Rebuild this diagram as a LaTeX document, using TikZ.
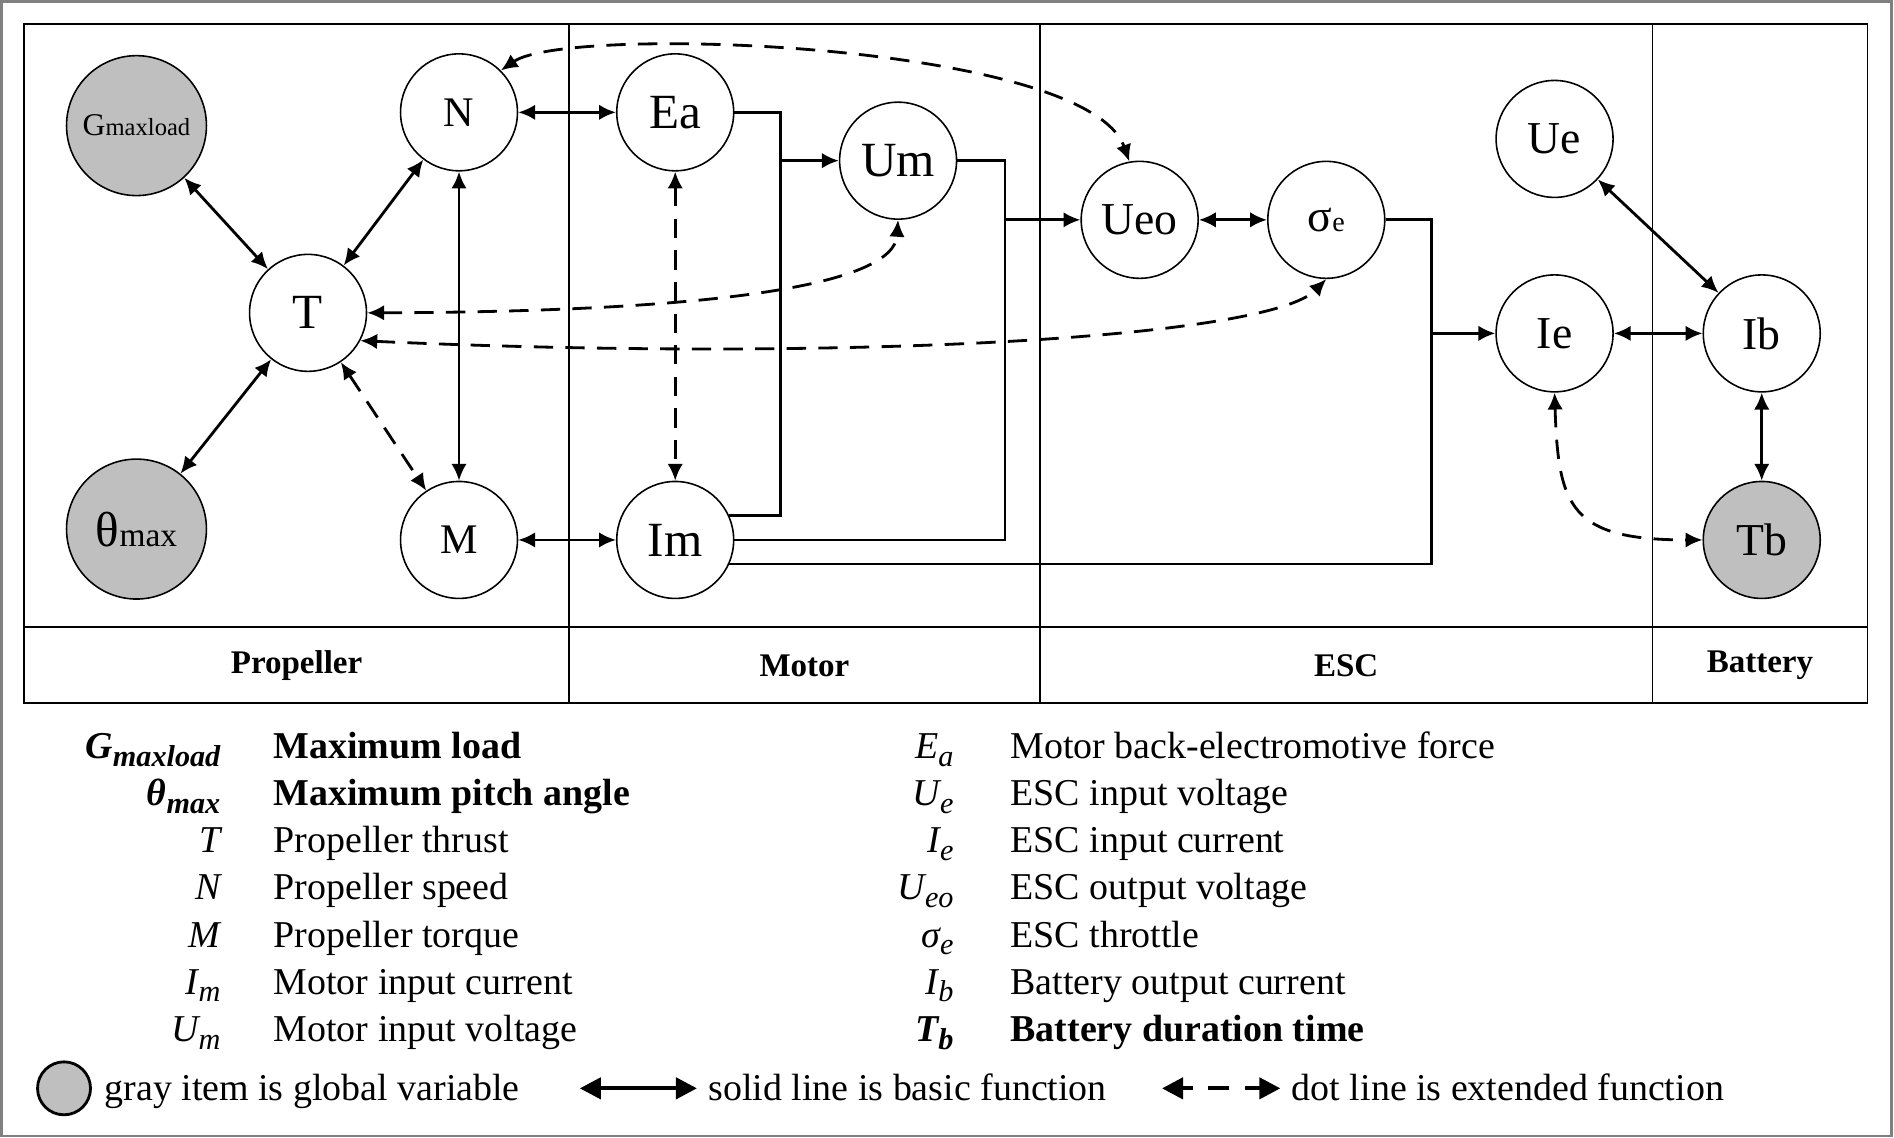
\documentclass[tikz,border=0pt]{standalone}
\usepackage{fontspec}
\setmainfont{Liberation Serif}
\usetikzlibrary{arrows.meta}
\newcommand{\lsub}[1]{\raisebox{-0.45ex}{\fontsize{8.6}{9}\selectfont #1}}
\newcommand{\vsub}[2]{{\fontsize{#1}{#1}\selectfont #2}}
\tikzset{
  >={Latex[length=4.8pt,width=4.4pt]},
  var/.style={draw,circle,line width=0.45pt,minimum size=1.17cm,inner sep=0pt,fill=white},
  globalvar/.style={var,fill=gray!50,minimum size=1.40cm},
  ext/.style={dash pattern=on 5.5pt off 3.5pt},
  part/.style={font=\fontsize{9.4}{11}\selectfont\bfseries},
  symb/.style={anchor=base east,inner sep=0pt},
  desc/.style={anchor=base west,inner sep=0pt},
  keyarrow/.style={line width=1.2pt,{Triangle[length=6pt,width=6pt]}-{Triangle[length=6pt,width=6pt]}},
}
\tikzstyle{every node}=[font=\fontsize{10.8}{13}\selectfont]

\begin{document}
\begin{tikzpicture}[x=0.012079cm,y=-0.012079cm]
    \useasboundingbox (0,0) rectangle (1568,942);
    \draw[gray,line width=0.8pt] (1.5,1.5) rectangle (1566,940.5);
    % frame and parts
    \draw[line width=0.5pt] (20,20) rectangle (1546,582);
    \draw[line width=0.5pt] (20,519) -- (1546,519);
    \foreach \x in {471,861,1368}
      \draw[line width=0.5pt] (\x,20) -- (\x,582);
    \node[part] (prop) at (245.5,551) {Propeller};
    \node[part] (motor) at (666,551) {Motor};
    \node[part] (esc) at (1114.5,551) {ESC};
    \node[part] (batt) at (1457,551) {Battery};

    \node[globalvar] (Gmax) at (113,104) {\vsub{9}{G}\vsub{7}{maxload}};
    \node[globalvar] (thmax) at (113,438) {\vsub{14}{θ}\vsub{9.5}{max}};
    \node[var,font=\fontsize{14}{15}\selectfont] (T) at (255,259) {T};
    \node[var,font=\fontsize{12}{13}\selectfont] (N) at (380,93) {N};
    \node[var,font=\fontsize{12}{13}\selectfont] (M) at (380,447) {M};
    \node[var,font=\fontsize{14}{15}\selectfont] (Ea) at (559,93) {Ea};
    \node[var,font=\fontsize{14}{15}\selectfont] (Um) at (743.5,133) {Um};
    \node[var,font=\fontsize{14}{15}\selectfont] (Im) at (559,447) {Im};
    \node[var,font=\fontsize{13}{14}\selectfont] (Ueo) at (943.5,182) {Ueo};
    \node[var] (sige) at (1098,182) {\vsub{13}{σ}\vsub{8}{e}};
    \node[var,font=\fontsize{13}{14}\selectfont] (Ue) at (1287,115) {Ue};
    \node[var,font=\fontsize{13}{14}\selectfont] (Ie) at (1287,276) {Ie};
    \node[var,font=\fontsize{13}{14}\selectfont] (Ib) at (1458.5,276) {Ib};
    \node[globalvar,minimum size=1.17cm,font=\fontsize{13}{14}\selectfont] (Tb) at (1458.5,447) {Tb};

    \begin{scope}[thick,<->]
      \draw (Gmax) -- (T);
      \draw (thmax) -- (T);
      \draw (T) -- (N);
      \draw (N) -- (M);
      \draw (N) -- (Ea);
      \draw (M) -- (Im);
      \draw (Ueo) -- (sige);
      \draw (Ie) -- (Ib);
      \draw (Ue) -- (Ib);
      \draw (Ib) -- (Tb);
    \end{scope}
    \begin{scope}[thick,<->,ext]
      \draw (T) -- (M);
      \draw (Ea) -- (Im);
      \draw (N.45) .. controls (470,20) and (900,35) .. (Ueo.100);
      \draw (T.east) .. controls (600,258) and (740,235) .. (Um.south);
      \draw (T.-28) .. controls (700,300) and (1050,280) .. (sige.south);
      \draw (Ie.south) .. controls (1290,420) and (1300,447) .. (Tb.west);
    \end{scope}

    \coordinate (jA) at (646,133);
    \coordinate (jB) at (832,182);
    \coordinate (jC) at (1185,276);
    \begin{scope}[thick]
      \draw (Ea.east) -| (jA);
      \draw (Im.24) -| (jA);
      \draw[->] (jA) -- (Um.west);
      \draw (Um.east) -| (jB);
      \draw (Im.east) -| (jB);
      \draw[->] (jB) -- (Ueo.west);
      \draw (sige.east) -| (jC);
      \draw (Im.-24) -| (jC);
      \draw[->] (jC) -- (Ie.west);
    \end{scope}

    % legend
    \node[symb] (lG) at (183,628) {\bfseries\itshape G\lsub{maxload}};
    \node[desc] (dG) at (226,628) {\bfseries Maximum load};
    \node[symb] (lth) at (183,667) {\bfseries\itshape θ\lsub{max}};
    \node[desc] (dth) at (226,667) {\bfseries Maximum pitch angle};
    \node[symb] (lT) at (183,706) {\itshape T};
    \node[desc] (dT) at (226,706) {Propeller thrust};
    \node[symb] (lN) at (183,745) {\itshape N};
    \node[desc] (dN) at (226,745) {Propeller speed};
    \node[symb] (lM) at (183,784) {\itshape M};
    \node[desc] (dM) at (226,784) {Propeller torque};
    \node[symb] (lIm) at (183,823) {\itshape I\lsub{m}};
    \node[desc] (dIm) at (226,823) {Motor input current};
    \node[symb] (lUm) at (183,862) {\itshape U\lsub{m}};
    \node[desc] (dUm) at (226,862) {Motor input voltage};

    \node[symb] (lEa) at (790,628) {\itshape E\lsub{a}};
    \node[desc] (dEa) at (836,628) {Motor back-electromotive force};
    \node[symb] (lUe) at (790,667) {\itshape U\lsub{e}};
    \node[desc] (dUe) at (836,667) {ESC input voltage};
    \node[symb] (lIe) at (790,706) {\itshape I\lsub{e}};
    \node[desc] (dIe) at (836,706) {ESC input current};
    \node[symb] (lUeo) at (790,745) {\itshape U\lsub{eo}};
    \node[desc] (dUeo) at (836,745) {ESC output voltage};
    \node[symb] (lsig) at (790,784) {\itshape σ\lsub{e}};
    \node[desc] (dsig) at (836,784) {ESC throttle};
    \node[symb] (lIb) at (790,823) {\itshape I\lsub{b}};
    \node[desc] (dIb) at (836,823) {Battery output current};
    \node[symb] (lTb) at (790,862) {\bfseries\itshape T\lsub{b}};
    \node[desc] (dTb) at (836,862) {\bfseries Battery duration time};

    \node[globalvar,minimum size=0.53cm,line width=0.8pt] (keyg) at (53,901) {};
    \node[desc] (keygt) at (86,911) {gray item is global variable};
    \coordinate (ks1) at (480,901);
    \coordinate (ks2) at (577,901);
    \draw[keyarrow] (ks1) -- (ks2);
    \node[desc] (keyst) at (586,911) {solid line is basic function};
    \coordinate (kd1) at (962,901);
    \coordinate (kd2) at (1060,901);
    \draw[keyarrow,dash pattern=on 6pt off 4.5pt,dash phase=3pt] (kd1) -- (kd2);
    \node[desc] (keydt) at (1069,911) {dot line is extended function};
\end{tikzpicture}
\end{document}
